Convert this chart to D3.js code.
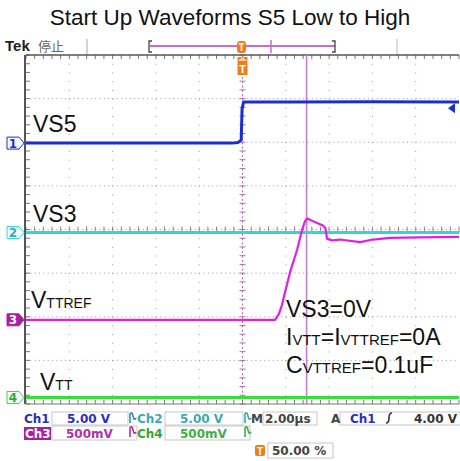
<!DOCTYPE html>
<html>
<head>
<meta charset="utf-8">
<script src="https://cdn.jsdelivr.net/npm/d3@7"></script>
<style>
body{margin:0;background:#fff}
svg{display:block}
text{font-family:"Liberation Sans",Arial,sans-serif}
.ro{font-family:"DejaVu Sans",sans-serif;font-weight:bold;font-size:12px}
</style>
</head>
<body>
<div id="chart"></div>
<script>
// scope settings
var timePerDiv = 2.0   // us/div
var trigLevel = 4.00   // V on ch1
var cursorT = 2.96     // us

// traces (time us, volts)
var ch1T = [-10, -0.5, -0.2, -0.06, -0.02, 0.05, 2, 6, 10]
var ch1V = [0, 0, 0.08, 0.35, 3.9, 4.72, 4.72, 4.74, 4.72]
var ch2T = [-10, 10]
var ch2V = [0, 0]
var ch3T = [-10, 1.5, 1.69, 1.82, 2.19, 2.52, 2.75, 2.89, 3.0, 3.16, 3.44, 3.72, 3.83, 3.9, 4.13, 4.5, 5.43, 6.03, 6.81, 8.2, 10]
var ch3V = [0, 0, 0.07, 0.17, 0.54, 0.80, 1.03, 1.13, 1.16, 1.14, 1.11, 1.08, 1.05, 0.93, 0.91, 0.92, 0.89, 0.92, 0.94, 0.945, 0.95]
var ch4T = [-10, 10]
var ch4V = [0, 0]

var channels = [
  {n:"1", t:ch1T, v:ch1V, vdiv:5.0, pos:1.98, col:"#1b2ed6", txt:"#2a30b8", fill:false},
  {n:"2", t:ch2T, v:ch2V, vdiv:5.0, pos:-0.07, col:"#33d4dc", txt:"#3aaab2", fill:false},
  {n:"3", t:ch3T, v:ch3V, vdiv:0.5, pos:-2.07, col:"#e21fe0", txt:"#a8209f", fill:true},
  {n:"4", t:ch4T, v:ch4V, vdiv:0.5, pos:-3.85, col:"#35e035", txt:"#33a833", fill:false}
]

var W = 460, H = 461
var svg = d3.select("#chart").append("svg").attr("width",W).attr("height",H)
svg.append("rect").attr("width",W).attr("height",H).attr("fill","#fff")

var x = d3.scaleLinear().domain([-5*timePerDiv, 5*timePerDiv]).range([26, 459])
var y = d3.scaleLinear().domain([-4, 4]).range([404, 55])

// title
svg.append("text").text("Start Up Waveforms S5 Low to High")
  .attr("x",230).attr("y",25).attr("text-anchor","middle")
  .attr("font-size",22.5).attr("fill","#111")

// header
svg.append("text").text("Tek").attr("x",5).attr("y",51)
  .attr("font-size",15).attr("font-weight","bold").attr("fill","#222")
svg.append("text").text("停止").attr("x",38).attr("y",51)
  .style("font-family","'Noto Sans CJK SC'").attr("font-size",13).attr("fill","#666")
svg.append("line").attr("x1",87).attr("x2",87).attr("y1",39).attr("y2",55).attr("stroke","#aaa")
svg.append("line").attr("x1",397).attr("x2",397).attr("y1",39).attr("y2",55).attr("stroke","#bbb")
svg.append("line").attr("x1",150).attr("x2",335).attr("y1",46).attr("y2",46).attr("stroke","#c86ad0").attr("stroke-width",2)
svg.append("path").attr("d","M152,41 L149,41 L149,52 L152,52").attr("fill","none").attr("stroke","#444").attr("stroke-width",1.3)
svg.append("path").attr("d","M332,41 L335,41 L335,52 L332,52").attr("fill","none").attr("stroke","#444").attr("stroke-width",1.3)
svg.append("line").attr("x1",271).attr("x2",271).attr("y1",40).attr("y2",53).attr("stroke","#c070d0").attr("stroke-width",1.5)
svg.append("rect").attr("x",237).attr("y",41).attr("width",9).attr("height",12).attr("rx",3).attr("fill","#f07d1a")
svg.append("text").text("T").attr("x",241.5).attr("y",51).attr("text-anchor","middle")
  .attr("font-size",10).attr("font-weight","bold").attr("fill","#fff")

// graticule
var g = svg.append("g")
var xDivs = d3.range(-5*timePerDiv, 5*timePerDiv + 0.01, timePerDiv)
var yDivs = d3.range(-4, 4.01, 1)
g.selectAll(".vg").data(xDivs.slice(1,-1)).enter().append("line")
  .attr("x1",d=>x(d)).attr("x2",d=>x(d)).attr("y1",y(4)).attr("y2",y(-4))
  .attr("stroke",d=>d==0?"#b268b8":"#9a9a9a").attr("stroke-width",1)
  .attr("stroke-dasharray",d=>d==0?"2,2.36":"1,7.72")
g.selectAll(".hg").data(yDivs.slice(1,-1)).enter().append("line")
  .attr("y1",d=>y(d)).attr("y2",d=>y(d)).attr("x1",x(-10)).attr("x2",x(10))
  .attr("stroke","#9a9a9a").attr("stroke-width",1).attr("stroke-dasharray","1,3.33")

// minor ticks along frame and center lines
var minorX = d3.range(-10, 10.01, timePerDiv/5)
var minorY = d3.range(-4, 4.01, 0.2)
minorX.forEach(function(t){
  g.append("line").attr("x1",x(t)).attr("x2",x(t)).attr("y1",y(4)).attr("y2",y(4)+4).attr("stroke","#777")
  g.append("line").attr("x1",x(t)).attr("x2",x(t)).attr("y1",y(-4)).attr("y2",y(-4)-4).attr("stroke","#777")
  g.append("line").attr("x1",x(t)).attr("x2",x(t)).attr("y1",y(0)-3).attr("y2",y(0)+3).attr("stroke","#888")
})
minorY.forEach(function(d){
  g.append("line").attr("y1",y(d)).attr("y2",y(d)).attr("x1",x(-10)).attr("x2",x(-10)+4).attr("stroke","#777")
  g.append("line").attr("y1",y(d)).attr("y2",y(d)).attr("x1",x(0)-3).attr("x2",x(0)+3).attr("stroke","#b268b8")
})
g.append("line").attr("x1",x(-10)).attr("x2",x(10)).attr("y1",y(4)).attr("y2",y(4)).attr("stroke","#555").attr("stroke-width",1.5)
g.append("line").attr("x1",x(-10)).attr("x2",x(10)).attr("y1",y(-4)).attr("y2",y(-4)).attr("stroke","#777").attr("stroke-width",1)
g.append("line").attr("x1",x(-10)-1).attr("x2",x(-10)-1).attr("y1",y(4)).attr("y2",y(-4)).attr("stroke","#555").attr("stroke-width",2)

// cursor
svg.append("line").attr("x1",x(cursorT)).attr("x2",x(cursorT)).attr("y1",y(4)).attr("y2",y(-4))
  .attr("stroke","#c47fd2").attr("stroke-width",1.6)

// trigger position marker
svg.append("path").attr("d","M"+(x(0)-5)+",57 L"+(x(0)+5)+",57 L"+(x(0)+5)+",75 L"+(x(0)-5)+",75 Z").attr("fill","#f07d1a")
svg.append("path").attr("d","M"+(x(0)-5)+",61 L"+x(0)+",57 L"+(x(0)+5)+",61").attr("fill","#fff").attr("opacity",0.6)
svg.append("text").text("T").attr("x",x(0)).attr("y",73).attr("text-anchor","middle")
  .attr("font-size",11).attr("font-weight","bold").attr("fill","#fff")

// traces
channels.forEach(function(c){
  var pts = c.t.map(function(t,i){return [t, c.v[i]]})
  var line = d3.line().x(d=>x(d[0])).y(d=>y(c.pos + d[1]/c.vdiv))
  svg.append("path").datum(pts).attr("d",line).attr("fill","none")
    .attr("stroke",c.col).attr("stroke-width",c.n=="3"?2.2:3).attr("stroke-linejoin","round")
})

// channel ground markers
channels.forEach(function(c){
  var yy = y(c.pos)
  svg.append("path").attr("d","M7,"+(yy-6)+" L19,"+(yy-6)+" L24,"+yy+" L19,"+(yy+6)+" L7,"+(yy+6)+" Z")
    .attr("fill",c.fill?c.txt:"#f4fbfb").attr("stroke",c.fill?c.txt:c.col).attr("stroke-width",1)
  svg.append("text").text(c.n).attr("x",13).attr("y",yy+4.5).attr("text-anchor","middle")
    .attr("class","ro").attr("font-size",11).attr("fill",c.fill?"#fff":c.txt)
})

// trigger level marker
var ty = y(channels[0].pos + trigLevel/channels[0].vdiv)
svg.append("path").attr("d","M448,"+ty+" L455,"+(ty-5)+" L455,"+(ty+5)+" Z").attr("fill","#1b2ed6")

// labels
function label(parts, xx, yy){
  var t = svg.append("text").attr("x",xx).attr("y",yy).attr("fill","#111")
  parts.forEach(function(p){
    t.append("tspan").text(p[0]).attr("font-size",p[1])
  })
}
label([["VS5",23]], 33, 132)
label([["VS3",23]], 33, 222)
label([["V",23],["TTREF",14]], 31, 308)
label([["V",23],["TT",14]], 40, 390)
label([["VS3=0V",23]], 286, 317)
label([["I",23],["VTT",15],["=I",23],["VTTREF",15],["=0A",23]], 286, 345)
label([["C",23],["VTTREF",15],["=0.1uF",23]], 286, 373)

// readout
var ro = svg.append("g")
function box(x0,y0,w,h){ ro.append("rect").attr("x",x0).attr("y",y0).attr("width",w).attr("height",h).attr("fill","#fff").attr("stroke","#c8c8c8") }
function txt(s,x0,y0,col,anchor){ ro.append("text").text(s).attr("x",x0).attr("y",y0).attr("class","ro").attr("fill",col).attr("text-anchor",anchor||"start") }
function bw(x0,y0,col){ ro.append("path").attr("d","M"+x0+","+(y0+9)+" L"+x0+","+y0+" q2,-3 3,2 q1,5 3,2").attr("fill","none").attr("stroke",col).attr("stroke-width",1.6) }

box(52,412,76,13); box(165,412,78,13); box(263,412,54,13); box(340,412,121,13)
box(52,426,85,14); box(165,426,85,14); box(268,443,65,15)
txt("Ch1",24,423,"#2a30b8"); txt("5.00 V",67,423,"#2a30b8"); bw(130,414,"#3a8ab8")
txt("Ch2",137,423,"#3aaab2"); txt("5.00 V",180,423,"#3aaab2"); bw(245,414,"#3aaab2")
txt("M",251,423,"#444"); txt("2.00µs",265,423,"#444")
txt("A",331,423,"#444"); txt("Ch1",350,423,"#2a30b8")
ro.append("path").attr("d","M386,423 q3,0 3,-5 q0,-5 3,-5").attr("fill","none").attr("stroke","#333").attr("stroke-width",1.6)
txt("4.00 V",457,423,"#333","end")
ro.append("rect").attr("x",24).attr("y",427).attr("width",27).attr("height",13).attr("fill","#a8209f")
txt("Ch3",25,438,"#fff"); txt("500mV",66,438,"#b030b0"); bw(130,428,"#b030b0")
txt("Ch4",137,438,"#33a833"); txt("500mV",180,438,"#40b040"); bw(245,428,"#40b040")
ro.append("rect").attr("x",255).attr("y",445).attr("width",10).attr("height",11).attr("rx",2).attr("fill","#f07d1a")
ro.append("text").text("T").attr("x",260).attr("y",454.5).attr("text-anchor","middle").attr("font-size",10).attr("font-weight","bold").attr("fill","#fff")
txt("50.00 %",272,455,"#444")
</script>
</body>
</html>
